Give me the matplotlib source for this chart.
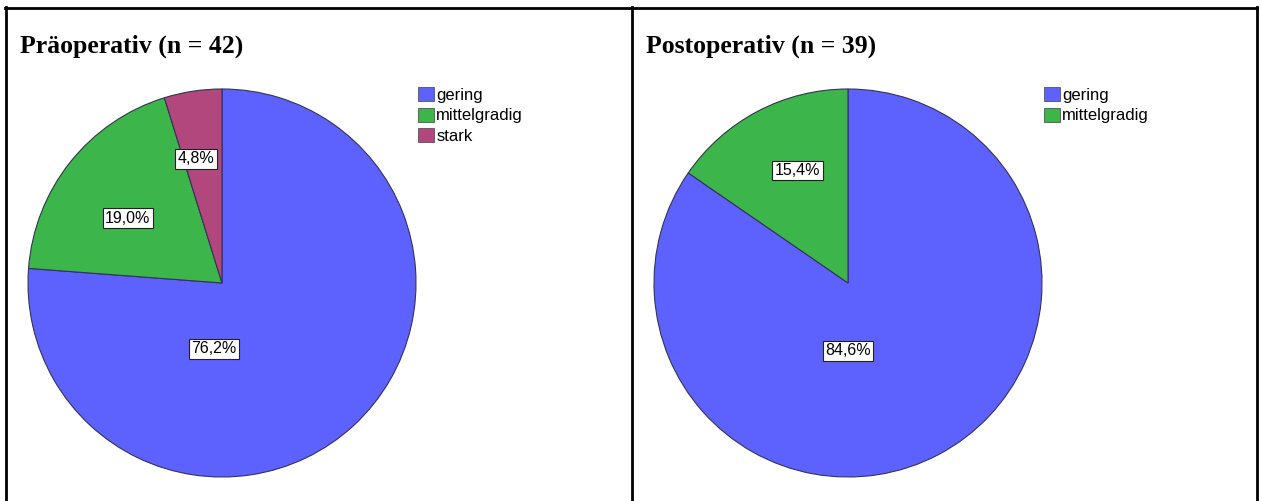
import matplotlib
matplotlib.use("Agg")
import matplotlib.pyplot as plt
from matplotlib.patches import Patch
from matplotlib.lines import Line2D

# ── data ───────────────────────────────────────────────
pre_labels = ['gering', 'mittelgradig', 'stark']
pre_values = [76.2, 19.0, 4.8]
post_labels = ['gering', 'mittelgradig']
post_values = [84.6, 15.4]

colors = ['#5D62FE', '#3CB54A', '#B2477D']

# label positions in radius units (as placed in the source chart)
pre_label_pos = [(-0.04, -0.34), (-0.485, 0.335), (-0.135, 0.64)]
post_label_pos = [(0.0, -0.35), (-0.26, 0.58)]

W, H = 1262, 501
fig = plt.figure(figsize=(W / 100, H / 100), dpi=100)

# panel borders
for x in [5.5 / W, 632 / W, 1256.5 / W]:
    fig.add_artist(Line2D([x, x], [0, 1 - 7 / H], color='black', lw=2))
fig.add_artist(Line2D([5 / W, 1257 / W], [1 - 8 / H, 1 - 8 / H], color='black', lw=2))


def draw_panel(cx, title, n, labels, values, label_pos):
    r = 194
    cy = 283
    ax = fig.add_axes([(cx - r) / W, 1 - (cy + r) / H, 2 * r / W, 2 * r / H])
    ax.pie(values, colors=colors[:len(values)], startangle=90,
           counterclock=False, radius=1,
           wedgeprops=dict(edgecolor='#333355', linewidth=0.8))
    ax.set_xlim(-1, 1)
    ax.set_ylim(-1, 1)
    ax.set_aspect('equal')
    ax.axis('off')
    for v, (lx, ly) in zip(values, label_pos):
        ax.text(lx, ly, f'{v:.1f}%'.replace('.', ','), ha='center', va='center',
                fontsize=11.5, family='Liberation Sans',
                bbox=dict(boxstyle='square,pad=0.15', fc='white',
                          ec='#222222', lw=0.8))

    # title
    fig.text((cx - 202) / W, 1 - 53 / H, f'{title} (n = {n})', fontsize=18.5,
             fontweight='bold', family='Liberation Serif',
             ha='left', va='baseline')

    # legend
    handles = [Patch(facecolor=colors[i], edgecolor='#555555', lw=0.6)
               for i in range(len(labels))]
    fig.legend(handles, labels, loc='upper left',
               bbox_to_anchor=((cx + 196) / W, 1 - 87 / H),
               frameon=False, prop=dict(family='Liberation Sans', size=12),
               handlelength=0.95, handleheight=0.9, handletextpad=0.15,
               labelspacing=0.3, borderpad=0, borderaxespad=0)


draw_panel(222, 'Präoperativ', 42, pre_labels, pre_values, pre_label_pos)
draw_panel(848, 'Postoperativ', 39, post_labels, post_values, post_label_pos)

fig.savefig('out.png', dpi=100)
